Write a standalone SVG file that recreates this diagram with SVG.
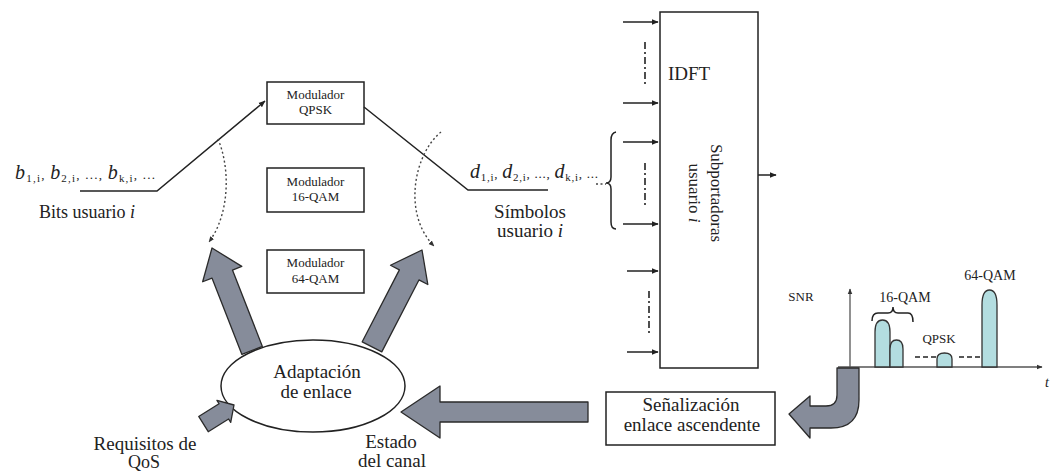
<svg xmlns="http://www.w3.org/2000/svg" width="1053" height="472" viewBox="0 0 1053 472" font-family="'Liberation Serif','DejaVu Serif',serif">
<defs>
<style>
.t{font-family:'Liberation Serif','DejaVu Serif',serif;fill:#222}
.box{fill:#fff;stroke:#222;stroke-width:1.5}
.ln{fill:none;stroke:#222;stroke-width:1.5}
.dot{fill:none;stroke:#444;stroke-width:1.4;stroke-dasharray:2,2.5}
.dd{fill:none;stroke:#222;stroke-width:1.6;stroke-dasharray:7,3,2,3}
.big{fill:#868c9a;stroke:#2a2a2a;stroke-width:1.3;stroke-linejoin:round}
.peak{fill:#b3dde0;stroke:#333;stroke-width:1.3}
.ax{fill:none;stroke:#555;stroke-width:1.3}
</style>
<marker id="ah" viewBox="0 0 10 10" refX="9" refY="5" markerWidth="7" markerHeight="7" markerUnits="userSpaceOnUse" orient="auto">
<path d="M0,1 L10,5 L0,9 Z" fill="#222"/>
</marker>
<marker id="ahs" viewBox="0 0 10 10" refX="9" refY="5" markerWidth="6" markerHeight="6" markerUnits="userSpaceOnUse" orient="auto">
<path d="M0,1 L10,5 L0,9 Z" fill="#333"/>
</marker>
</defs>
<rect width="1053" height="472" fill="#fff"/>

<g id="bits">
<text class="t" x="15" y="179" font-size="20" font-style="italic" textLength="140" lengthAdjust="spacing">b<tspan font-size="11" dy="3" font-style="normal">1,i</tspan><tspan font-size="13" dy="-3" font-style="normal">, </tspan>b<tspan font-size="11" dy="3" font-style="normal">2,i</tspan><tspan font-size="13" dy="-3" font-style="normal">, ..., </tspan>b<tspan font-size="11" dy="3" font-style="normal">k,i</tspan><tspan font-size="13" dy="-3" font-style="normal">, ...</tspan></text>
<text class="t" x="87" y="218" font-size="18" text-anchor="middle">Bits usuario <tspan font-style="italic">i</tspan></text>
</g>

<g id="symbols">
<text class="t" x="470" y="178" font-size="20" font-style="italic" textLength="128" lengthAdjust="spacing">d<tspan font-size="11" dy="3" font-style="normal">1,i</tspan><tspan font-size="13" dy="-3" font-style="normal">, </tspan>d<tspan font-size="11" dy="3" font-style="normal">2,i</tspan><tspan font-size="13" dy="-3" font-style="normal">, ..., </tspan>d<tspan font-size="11" dy="3" font-style="normal">k,i</tspan><tspan font-size="13" dy="-3" font-style="normal">, ...</tspan></text>
<text class="t" x="530" y="218" font-size="19" text-anchor="middle">Símbolos</text>
<text class="t" x="530" y="237" font-size="19" text-anchor="middle">usuario <tspan font-style="italic">i</tspan></text>
</g>

<g id="mod-qpsk">
<rect class="box" x="267" y="82" width="97" height="42"/>
<text class="t" x="315.5" y="99" font-size="13" text-anchor="middle" fill="#444">Modulador</text>
<text class="t" x="315.5" y="114" font-size="13" text-anchor="middle">QPSK</text>
</g>
<g id="mod-16qam">
<rect class="box" x="267" y="168" width="97" height="44"/>
<text class="t" x="315.5" y="186" font-size="13" text-anchor="middle">Modulador</text>
<text class="t" x="315.5" y="201" font-size="13" text-anchor="middle">16-QAM</text>
</g>
<g id="mod-64qam">
<rect class="box" x="267" y="250" width="97" height="43"/>
<text class="t" x="315.5" y="267" font-size="13" text-anchor="middle">Modulador</text>
<text class="t" x="315.5" y="283" font-size="13" text-anchor="middle">64-QAM</text>
</g>

<g id="idft">
<rect class="box" x="660" y="12" width="98" height="356"/>
<text class="t" x="668" y="80" font-size="19">IDFT</text>
<text class="t" font-size="17" text-anchor="middle" transform="translate(711,193) rotate(90)">Subportadoras</text>
<text class="t" font-size="17" text-anchor="middle" transform="translate(689,193) rotate(90)">usuario <tspan font-style="italic">i</tspan></text>
</g>

<g id="adaptacion">
<ellipse cx="313" cy="386" rx="92" ry="46" fill="#fff" stroke="#222" stroke-width="1.5"/>
<text class="t" x="317" y="378" font-size="19" text-anchor="middle">Adaptación</text>
<text class="t" x="316" y="398" font-size="19" text-anchor="middle">de enlace</text>
</g>

<g id="senalizacion">
<rect class="box" x="606" y="392" width="169" height="53"/>
<text class="t" x="691" y="411" font-size="19" text-anchor="middle">Señalización</text>
<text class="t" x="692" y="431" font-size="19" text-anchor="middle">enlace ascendente</text>
</g>

<g id="labels">
<text class="t" x="145" y="450" font-size="19" text-anchor="middle">Requisitos de</text>
<text class="t" x="144" y="468" font-size="18" text-anchor="middle">QoS</text>
<text class="t" x="391" y="448" font-size="19" text-anchor="middle">Estado</text>
<text class="t" x="392" y="467" font-size="19" text-anchor="middle">del canal</text>
</g>

<g id="chart">
<line class="ax" x1="850" y1="367" x2="850" y2="289" marker-end="url(#ahs)"/>
<line class="ax" x1="838" y1="367" x2="1042" y2="367" marker-end="url(#ahs)"/>
<path class="peak" d="M875,367 L875,332 Q875,320 882.5,320 Q890,320 890,332 L890,367 Z"/>
<path class="peak" d="M890,367 L890,349 Q890,340 896.5,340 Q903,340 903,349 L903,367 Z"/>
<path class="peak" d="M937,367 L937,359 Q937,353 944.5,353 Q952,353 952,359 L952,367 Z"/>
<path class="peak" d="M982,367 L982,305 Q982,290 989.5,290 Q997,290 997,305 L997,367 Z"/>
<path class="ln" stroke-width="1.3" d="M872,321 Q872,313 878,313 L888,313 Q893,313 893,307 Q893,313 898,313 L908,313 Q913,313 913,322"/>
<line x1="915" y1="357" x2="936" y2="357" stroke="#222" stroke-width="1.5" stroke-dasharray="5,3"/>
<line x1="959" y1="357" x2="980" y2="357" stroke="#222" stroke-width="1.5" stroke-dasharray="5,3"/>
<text class="t" x="801" y="301" font-size="13" text-anchor="middle">SNR</text>
<text class="t" x="905" y="302" font-size="14" text-anchor="middle">16-QAM</text>
<text class="t" x="990" y="280" font-size="14" text-anchor="middle">64-QAM</text>
<text class="t" x="939" y="343" font-size="13" text-anchor="middle">QPSK</text>
<text class="t" x="1047" y="387" font-size="14" font-style="italic" text-anchor="middle" fill="#555">t</text>
</g>

<g id="connectors">
<path class="ln" d="M80,191 L157,191 L265,101" marker-end="url(#ah)"/>
<path class="ln" d="M364,107 L468,190 L548,190"/>
<path class="dot" d="M218,139 C231,170 229,215 209,242" marker-end="url(#ahs)"/>
<path class="dot" d="M441,132 C413,155 403,215 434,246" marker-end="url(#ahs)"/>
<line class="dot" x1="596" y1="184" x2="606" y2="184"/>
<path class="ln" d="M616,132 Q611,133 611,140 L611,177 Q611,183 606,183 Q611,183 611,189 L611,222 Q611,229 616,229"/>
<line class="ln" stroke-width="1.3" x1="623" y1="22" x2="658" y2="22" marker-end="url(#ah)"/>
<line class="ln" stroke-width="1.3" x1="623" y1="103" x2="658" y2="103" marker-end="url(#ah)"/>
<line class="ln" stroke-width="1.3" x1="623" y1="142" x2="658" y2="142" marker-end="url(#ah)"/>
<line class="ln" stroke-width="1.3" x1="623" y1="224" x2="658" y2="224" marker-end="url(#ah)"/>
<line class="ln" stroke-width="1.3" x1="627" y1="271" x2="658" y2="271" marker-end="url(#ah)"/>
<line class="ln" stroke-width="1.3" x1="627" y1="352" x2="658" y2="352" marker-end="url(#ah)"/>
<line class="dd" x1="645" y1="42" x2="645" y2="86"/>
<line class="dd" x1="645" y1="163" x2="645" y2="205"/>
<line class="dd" x1="649" y1="291" x2="649" y2="334"/>
<line class="ln" stroke-width="1.3" x1="758" y1="175" x2="776" y2="175" marker-end="url(#ah)"/>
<polygon class="big" transform="translate(212,248) rotate(-21.4)" points="0,0 21,28 11,28 11,110 -11,110 -11,28 -21,28"/>
<polygon class="big" transform="translate(422,250) rotate(27.3)" points="0,0 21,28 11,28 11,109 -11,109 -11,28 -21,28"/>
<polygon class="big" transform="translate(234,405) rotate(58)" points="0,0 13,12 9,12 9,36 -9,36 -9,12 -13,12"/>
<polygon class="big" points="401,412 440,386 440,402 588,402 588,422 440,422 440,438"/>
<path class="big" d="M837,368 L859,368 L859,400 Q859,428 831,428 L810,428 L810,438 L789,414 L810,396 L810,406 L826,406 Q837,406 837,395 Z"/>
</g>
</svg>
